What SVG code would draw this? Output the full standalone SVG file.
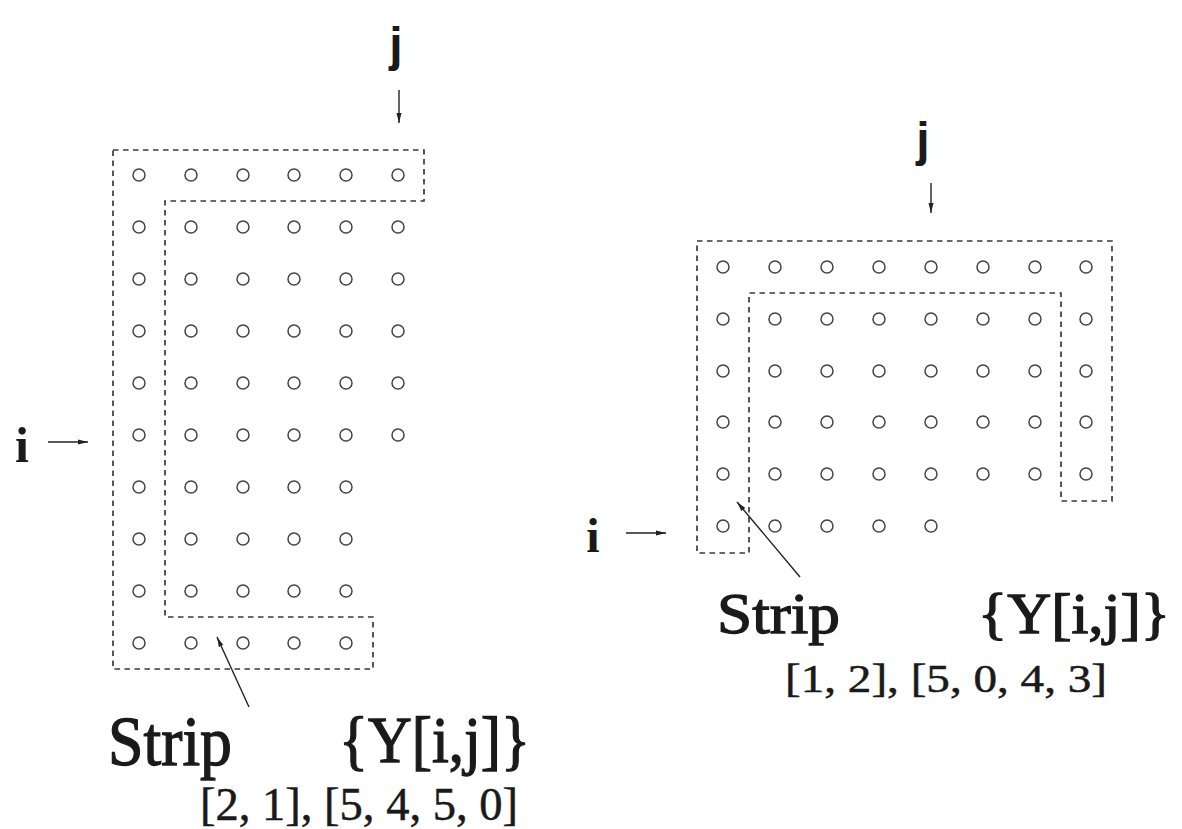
<svg xmlns="http://www.w3.org/2000/svg" xmlns:xlink="http://www.w3.org/1999/xlink" width="1182" height="829" viewBox="0 0 1182 829">
  <style>
    .pt { fill: none; stroke: #444; stroke-width: 1.5; }
    .strip { fill: none; stroke: #3a3a3a; stroke-width: 1.7; stroke-dasharray: 5.5 4.5; }
    .arr { stroke: #222; stroke-width: 1.4; fill: none; }
    .serif { font-family: "Liberation Serif", "Times New Roman", serif; fill: #1a1a1a; }
    .heavy { stroke: #1a1a1a; stroke-width: 1.3; }
    .mid { stroke: #1a1a1a; stroke-width: 0.5; }
    .sans { font-family: "Liberation Sans", Arial, sans-serif; font-weight: bold; fill: #1a1a1a; }
  </style>
  <defs>
    <circle id="pt" r="6" class="pt"/>
    <marker id="head" markerUnits="userSpaceOnUse" markerWidth="10" markerHeight="6" refX="10" refY="3" orient="auto">
      <path d="M0,0.5 L10,3 L0,5.5 Z" fill="#222"/>
    </marker>
  </defs>
  <rect width="1182" height="829" fill="#fff"/>

  <!-- left iteration space: 10 rows, 6 columns in rows 1-6, 5 columns in rows 7-10 -->
  <g id="grid-left">
    <use xlink:href="#pt" x="139" y="175"/><use xlink:href="#pt" x="191" y="175"/><use xlink:href="#pt" x="243" y="175"/><use xlink:href="#pt" x="294" y="175"/><use xlink:href="#pt" x="346" y="175"/><use xlink:href="#pt" x="398" y="175"/>
    <use xlink:href="#pt" x="139" y="227"/><use xlink:href="#pt" x="191" y="227"/><use xlink:href="#pt" x="243" y="227"/><use xlink:href="#pt" x="294" y="227"/><use xlink:href="#pt" x="346" y="227"/><use xlink:href="#pt" x="398" y="227"/>
    <use xlink:href="#pt" x="139" y="279"/><use xlink:href="#pt" x="191" y="279"/><use xlink:href="#pt" x="243" y="279"/><use xlink:href="#pt" x="294" y="279"/><use xlink:href="#pt" x="346" y="279"/><use xlink:href="#pt" x="398" y="279"/>
    <use xlink:href="#pt" x="139" y="331"/><use xlink:href="#pt" x="191" y="331"/><use xlink:href="#pt" x="243" y="331"/><use xlink:href="#pt" x="294" y="331"/><use xlink:href="#pt" x="346" y="331"/><use xlink:href="#pt" x="398" y="331"/>
    <use xlink:href="#pt" x="139" y="383"/><use xlink:href="#pt" x="191" y="383"/><use xlink:href="#pt" x="243" y="383"/><use xlink:href="#pt" x="294" y="383"/><use xlink:href="#pt" x="346" y="383"/><use xlink:href="#pt" x="398" y="383"/>
    <use xlink:href="#pt" x="139" y="435"/><use xlink:href="#pt" x="191" y="435"/><use xlink:href="#pt" x="243" y="435"/><use xlink:href="#pt" x="294" y="435"/><use xlink:href="#pt" x="346" y="435"/><use xlink:href="#pt" x="398" y="435"/>
    <use xlink:href="#pt" x="139" y="487"/><use xlink:href="#pt" x="191" y="487"/><use xlink:href="#pt" x="243" y="487"/><use xlink:href="#pt" x="294" y="487"/><use xlink:href="#pt" x="346" y="487"/>
    <use xlink:href="#pt" x="139" y="539"/><use xlink:href="#pt" x="191" y="539"/><use xlink:href="#pt" x="243" y="539"/><use xlink:href="#pt" x="294" y="539"/><use xlink:href="#pt" x="346" y="539"/>
    <use xlink:href="#pt" x="139" y="591"/><use xlink:href="#pt" x="191" y="591"/><use xlink:href="#pt" x="243" y="591"/><use xlink:href="#pt" x="294" y="591"/><use xlink:href="#pt" x="346" y="591"/>
    <use xlink:href="#pt" x="139" y="643"/><use xlink:href="#pt" x="191" y="643"/><use xlink:href="#pt" x="243" y="643"/><use xlink:href="#pt" x="294" y="643"/><use xlink:href="#pt" x="346" y="643"/>
  </g>
  <path id="strip-left" class="strip" d="M113,150 H424 V201 H165 V617 H373 V669 H113 Z"/>

  <!-- right iteration space: 6 rows, 8 columns in rows 1-5, 5 columns in row 6 -->
  <g id="grid-right">
    <use xlink:href="#pt" x="723" y="267"/><use xlink:href="#pt" x="775" y="267"/><use xlink:href="#pt" x="827" y="267"/><use xlink:href="#pt" x="879" y="267"/><use xlink:href="#pt" x="931" y="267"/><use xlink:href="#pt" x="983" y="267"/><use xlink:href="#pt" x="1035" y="267"/><use xlink:href="#pt" x="1086" y="267"/>
    <use xlink:href="#pt" x="723" y="319"/><use xlink:href="#pt" x="775" y="319"/><use xlink:href="#pt" x="827" y="319"/><use xlink:href="#pt" x="879" y="319"/><use xlink:href="#pt" x="931" y="319"/><use xlink:href="#pt" x="983" y="319"/><use xlink:href="#pt" x="1035" y="319"/><use xlink:href="#pt" x="1086" y="319"/>
    <use xlink:href="#pt" x="723" y="371"/><use xlink:href="#pt" x="775" y="371"/><use xlink:href="#pt" x="827" y="371"/><use xlink:href="#pt" x="879" y="371"/><use xlink:href="#pt" x="931" y="371"/><use xlink:href="#pt" x="983" y="371"/><use xlink:href="#pt" x="1035" y="371"/><use xlink:href="#pt" x="1086" y="371"/>
    <use xlink:href="#pt" x="723" y="422"/><use xlink:href="#pt" x="775" y="422"/><use xlink:href="#pt" x="827" y="422"/><use xlink:href="#pt" x="879" y="422"/><use xlink:href="#pt" x="931" y="422"/><use xlink:href="#pt" x="983" y="422"/><use xlink:href="#pt" x="1035" y="422"/><use xlink:href="#pt" x="1086" y="422"/>
    <use xlink:href="#pt" x="723" y="474"/><use xlink:href="#pt" x="775" y="474"/><use xlink:href="#pt" x="827" y="474"/><use xlink:href="#pt" x="879" y="474"/><use xlink:href="#pt" x="931" y="474"/><use xlink:href="#pt" x="983" y="474"/><use xlink:href="#pt" x="1035" y="474"/><use xlink:href="#pt" x="1086" y="474"/>
    <use xlink:href="#pt" x="723" y="526"/><use xlink:href="#pt" x="775" y="526"/><use xlink:href="#pt" x="827" y="526"/><use xlink:href="#pt" x="879" y="526"/><use xlink:href="#pt" x="931" y="526"/>
  </g>
  <path id="strip-right" class="strip" d="M697,241 H1112 V501 H1061 V293 H749 V553 H697 Z"/>

  <!-- axis labels -->
  <g id="axis-left">
    <text class="sans" x="396" y="61" font-size="48" text-anchor="middle">j</text>
    <text class="serif" x="22" y="462" font-size="50" font-weight="bold" text-anchor="middle">i</text>
  </g>
  <g id="axis-right">
    <text class="sans" x="923" y="156" font-size="48" text-anchor="middle">j</text>
    <text class="serif" x="593" y="552" font-size="48" font-weight="bold" text-anchor="middle">i</text>
  </g>

  <!-- arrows -->
  <g id="connectors">
    <line class="arr" x1="399" y1="90" x2="399" y2="123" marker-end="url(#head)"/>
    <line class="arr" x1="48" y1="442" x2="88" y2="442" marker-end="url(#head)"/>
    <line class="arr" x1="249" y1="707" x2="217" y2="637" marker-end="url(#head)"/>
    <line class="arr" x1="931" y1="183" x2="931" y2="213" marker-end="url(#head)"/>
    <line class="arr" x1="626" y1="533" x2="666" y2="533" marker-end="url(#head)"/>
    <line class="arr" x1="800" y1="577" x2="737" y2="502" marker-end="url(#head)"/>
  </g>

  <!-- strip captions -->
  <g id="caption-left">
    <text class="serif heavy" x="108" y="765" font-size="70" textLength="124" lengthAdjust="spacingAndGlyphs">Strip</text>
    <text class="serif heavy" x="339" y="762" font-size="66" textLength="191" lengthAdjust="spacingAndGlyphs">{Y[i,j]}</text>
    <text class="serif mid" x="200" y="820" font-size="46" textLength="318" lengthAdjust="spacingAndGlyphs">[2, 1], [5, 4, 5, 0]</text>
  </g>
  <g id="caption-right">
    <text class="serif heavy" x="717" y="633" font-size="57" textLength="123" lengthAdjust="spacingAndGlyphs">Strip</text>
    <text class="serif heavy" x="978" y="633" font-size="57" textLength="192" lengthAdjust="spacingAndGlyphs">{Y[i,j]}</text>
    <text class="serif mid" x="785" y="692" font-size="41" textLength="322" lengthAdjust="spacingAndGlyphs">[1, 2], [5, 0, 4, 3]</text>
  </g>
</svg>
